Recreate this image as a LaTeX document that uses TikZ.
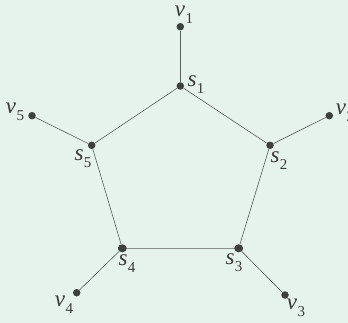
\documentclass[tikz,border=0pt]{standalone}
\usepackage{fontspec}
\usetikzlibrary{shapes.geometric}
\setmainfont{Liberation Serif}
\definecolor{bgc}{HTML}{E6F2EC}
\definecolor{dotc}{HTML}{3C413C}
\definecolor{linec}{HTML}{5A5F5A}
\definecolor{txtc}{HTML}{3A3A3A}
\newcommand{\glab}[2]{{\itshape #1}\hspace{0.5pt}\raisebox{-0.3em}{\fontsize{15}{15}\selectfont\upshape #2}}
\begin{document}
\begin{tikzpicture}[x=1pt,y=-1pt,
  vx/.style={circle,fill=dotc,inner sep=0pt,minimum size=7.5pt},
  vbig/.style={ellipse,fill=dotc,inner sep=0pt,minimum width=9pt,minimum height=8pt},
  edge/.style={draw=linec,line width=0.6pt},
  lab/.style={text=txtc,font=\fontsize{23}{23}\selectfont,inner sep=0pt}]
\fill[bgc] (0,0) rectangle (348,323);
\useasboundingbox (0,0) rectangle (348,323);
% vertices
\node[vx] (v1) at (180.3,26.7) {};
\node[vx] (s1) at (180.3,86) {};
\node[vx] (v5) at (32,115.7) {};
\node[vx] (s5) at (91.7,145.3) {};
\node[vx] (v2) at (329.3,115.7) {};
\node[vx] (s2) at (270,145.3) {};
\node[vbig] (s4) at (122.3,248.3) {};
\node[vbig] (s3) at (238.7,248.3) {};
\node[vx] (v4) at (76.7,292.7) {};
\node[vx] (v3) at (285,295) {};
% edges
\draw[edge] (v1) -- (s1);
\draw[edge] (s1) -- (s2) -- (s3) -- (s4) -- (s5) -- (s1);
\draw[edge] (v2) -- (s2);
\draw[edge] (v3) -- (s3);
\draw[edge] (v4) -- (s4);
\draw[edge] (v5) -- (s5);
% labels
\node[lab] (lv1) at (184,14.5) {\glab{v}{1}};
\node[lab] (ls1) at (196,85) {\glab{s}{1}};
\node[lab] (lv5) at (15,112) {\glab{v}{5}};
\node[lab] (ls5) at (83,159) {\glab{s}{5}};
\node[lab] (lv2) at (345,113) {\glab{v}{2}};
\node[lab] (ls2) at (279,161) {\glab{s}{2}};
\node[lab] (ls4) at (127,264) {\glab{s}{4}};
\node[lab] (ls3) at (234,263) {\glab{s}{3}};
\node[lab] (lv4) at (64,305) {\glab{v}{4}};
\node[lab] (lv3) at (296,308) {\glab{v}{3}};
\end{tikzpicture}
\end{document}
